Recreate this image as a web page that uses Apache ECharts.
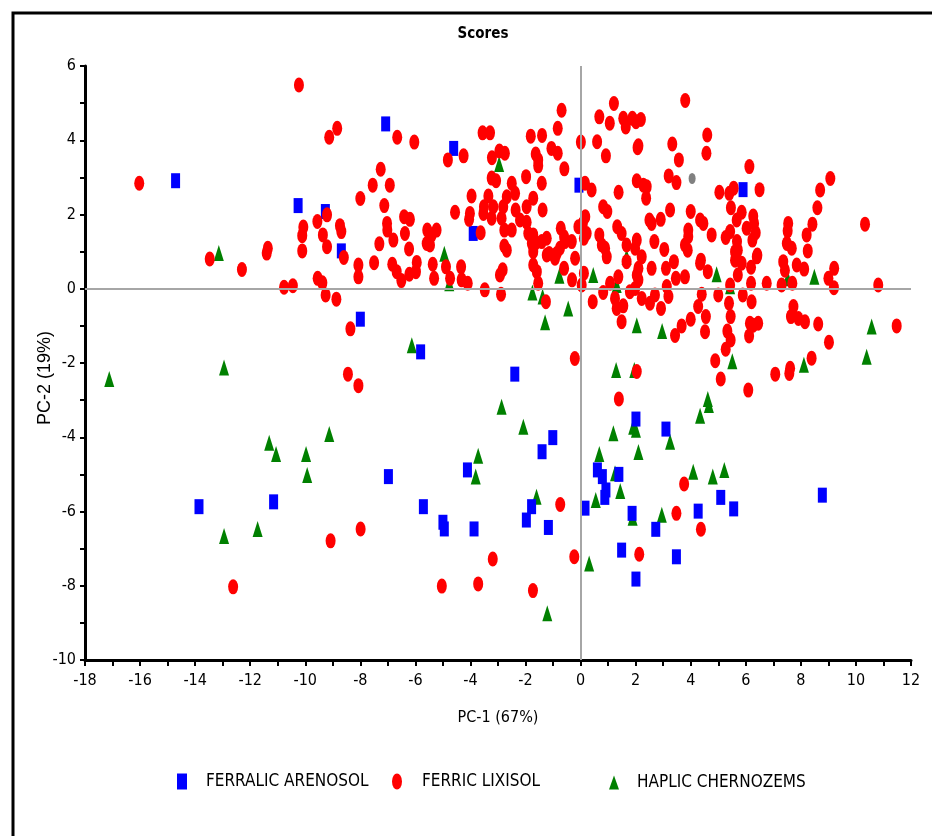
<!DOCTYPE html>
<html>
<head>
<meta charset="utf-8">
<script src="https://cdn.jsdelivr.net/npm/echarts@6/dist/echarts.min.js"></script>
<style>
html,body{margin:0;padding:0;background:#fff;}
#chart{width:932px;height:836px;}
</style>
</head>
<body>
<div id="chart"></div>
<script>
// ---- data (PC-1, PC-2) ----
const seriesNames = ['FERRALIC ARENOSOL', 'FERRIC LIXISOL', 'HAPLIC CHERNOZEMS'];
const xTickLabels = [-18,-16,-14,-12,-10,-8,-6,-4,-2,0,2,4,6,8,10,12];
const yTickLabels = [-10,-8,-6,-4,-2,0,2,4,6];

const ferralicArenosol = [
 [-14.71,2.91],[-10.26,2.24],[-9.27,2.08],[-8.69,1.02],[-8.0,-0.82],[-7.08,4.44],[-4.61,3.78],
 [-3.90,1.49],[-5.81,-1.70],[-2.39,-2.30],[-1.01,-4.01],[-1.40,-4.39],[-0.06,2.79],[5.90,2.67],
 [-13.86,-5.87],[-11.15,-5.74],[-6.98,-5.06],[-4.11,-4.88],[-5.71,-5.87],[-5.0,-6.29],[-4.95,-6.47],
 [-3.87,-6.47],[-1.78,-5.87],[-1.97,-6.23],[-1.17,-6.43],[0.16,-5.91],[0.61,-4.88],[0.79,-5.06],
 [0.92,-5.42],[0.88,-5.62],[1.39,-5.0],[1.87,-6.05],[1.49,-7.04],[2.01,-7.82],[4.27,-5.99],
 [5.09,-5.62],[5.56,-5.93],[2.73,-6.48],[3.48,-7.22],[8.78,-5.56],[2.01,-3.51],[3.10,-3.78]
];

const ferricLixisol = [
 [-10.23,5.49],[-8.84,4.32],[-9.13,4.08],[-16.03,2.84],[-8.0,2.43],[-9.56,1.81],[-9.21,1.99],
 [-10.07,1.66],[-10.11,1.43],[-8.74,1.70],[-8.69,1.54],[-9.36,1.45],[-9.21,1.13],[-10.11,1.02],
 [-11.36,1.09],[-11.40,0.96],[-13.47,0.80],[-12.30,0.52],[-10.77,0.04],[-10.45,0.08],[-9.55,0.28],
 [-9.38,0.16],[-9.26,-0.17],[-8.87,-0.28],[-8.07,0.64],[-8.07,0.32],[-8.60,0.84],[-8.36,-1.08],
 [-8.45,-2.30],[-8.07,-2.61],[-12.62,-8.03],[-9.08,-6.79],[-7.99,-6.47],
 [-7.50,0.70],[-6.84,0.66],[-6.68,0.46],[-6.51,0.22],[-6.22,0.39],[-5.95,0.71],[-5.98,0.46],
 [-5.37,0.66],[-5.32,0.28],[-4.89,0.59],[-4.74,0.28],[-4.34,0.59],[-4.32,0.24],[-4.10,0.15],
 [-3.48,-0.03],[-2.93,0.37],[-2.83,0.51],[-2.89,-0.15],[-1.72,0.64],[-1.59,0.46],[-1.54,0.15],
 [-1.23,0.91],[-0.93,0.82],[-0.60,0.55],[-0.31,0.24],[-0.20,0.82],[-1.26,-0.35],[0.12,0.42],
 [0.04,0.10],[0.44,-0.35],[0.82,-0.10],[1.07,0.15],[1.37,0.32],[1.25,-0.26],[1.31,-0.53],
 [1.55,-0.46],[1.49,-0.89],[1.79,-0.08],[1.67,0.73],[2.04,0.37],[-0.21,-1.88],[1.39,-2.97],[2.04,-2.23],
 [-3.19,-7.28],[-5.04,-8.01],[-3.72,-7.95],[-1.73,-8.13],[-0.74,-5.81],[-0.23,-7.22],[2.13,-7.15],
 [3.76,-5.26],[3.48,-6.05],[4.37,-6.48],
 [2.22,0.86],[2.10,0.55],[2.10,0.24],[2.58,0.55],[3.10,0.55],[3.39,0.73],[3.46,0.28],[3.79,0.32],
 [4.34,0.69],[4.62,0.46],[5.61,0.77],[5.85,0.69],[5.71,0.37],[6.19,0.58],[6.19,0.15],[6.40,0.86],
 [5.43,0.10],[6.76,0.15],[7.36,0.73],[7.42,0.50],[7.30,0.10],[7.69,0.15],[7.85,0.64],[8.12,0.53],
 [9.0,0.28],[9.21,0.55],[9.20,0.03],[10.81,0.10],[11.48,-1.0],[8.63,-0.95],[9.02,-1.44],[8.39,-1.87],
 [8.15,-0.89],[7.91,-0.80],[7.73,-0.48],[7.64,-0.75],[7.58,-2.28],[7.61,-2.14],[7.07,-2.30],[6.09,-2.73],
 [5.09,-2.43],[4.89,-1.94],[5.27,-1.63],[5.45,-1.38],[5.33,-1.14],[5.45,-0.75],[5.39,-0.39],[5.0,-0.17],
 [5.89,-0.17],[6.21,-0.35],[6.15,-0.93],[6.27,-0.98],[6.45,-0.93],[6.12,-1.27],[4.40,-0.15],[4.27,-0.48],
 [4.0,-0.82],[4.55,-0.75],[4.52,-1.16],[3.67,-1.0],[3.43,-1.26],[2.22,-0.26],[2.52,-0.39],[2.70,-0.17],
 [2.92,-0.53],[3.19,-0.21],[3.13,0.06],[1.98,0.01],
 [-6.66,4.08],[-6.04,3.95],[-4.82,3.47],[-4.25,3.58],[-3.56,4.20],[-3.29,4.20],[-3.22,3.53],[-2.95,3.71],
 [-2.75,3.65],[-1.81,4.11],[-1.40,4.13],[-0.69,4.81],[-0.83,4.32],[-1.63,3.63],[-1.54,3.47],[-1.54,3.31],
 [-1.06,3.78],[-0.83,3.65],[-0.59,3.23],[0.01,3.95],[0.60,3.96],[0.92,3.58],[0.68,4.63],[1.06,4.46],
 [1.21,4.99],[1.55,4.59],[1.64,4.36],[1.88,4.59],[2.01,4.50],[2.07,3.80],[2.04,2.91],[1.38,2.60],
 [0.16,2.84],[0.40,2.66],[-7.26,3.22],[-7.55,2.79],[-6.93,2.79],[-7.13,2.24],[-7.03,1.76],[-7.02,1.58],
 [-6.41,1.94],[-6.20,1.87],[-6.38,1.49],[-6.80,1.31],[-7.31,1.21],[-6.23,1.07],[-5.57,1.58],[-5.23,1.58],
 [-5.41,1.45],[-5.59,1.22],[-5.47,1.18],[-4.56,2.06],[-3.96,2.50],[-3.63,1.51],[-4.02,2.03],[-4.05,1.87],
 [-3.51,2.21],[-3.35,2.50],[-3.23,2.98],[-3.07,2.91],[-3.53,2.03],[-3.23,1.90],[-3.17,2.21],[-2.81,2.21],
 [-2.68,2.48],[-2.50,2.84],[-2.38,2.57],[-2.87,1.90],[-2.77,1.58],[-2.50,1.58],[-2.36,2.12],[-2.20,1.85],
 [-1.96,2.21],[-1.96,1.79],[-1.90,1.49],[-1.72,1.45],[-1.72,2.44],[-1.41,2.84],[-1.38,2.12],[-1.98,3.02],
 [-2.77,1.15],[-2.68,1.04],[-1.77,1.22],[-1.62,1.24],[-1.72,1.0],[-1.23,1.36],[-1.14,0.95],[-0.87,0.95],
 [-0.72,1.63],[-0.60,1.40],[-0.57,1.27],[-0.32,1.27],[-0.75,1.09],[-0.08,1.67],[0.08,1.76],[0.22,1.49],
 [0.12,1.36],[0.68,1.45],[0.89,1.09],[0.95,0.86],[0.77,1.18],[1.33,1.67],[1.49,1.49],[1.67,1.18],
 [1.98,1.09],[2.04,1.31],[0.82,2.21],[0.97,2.08],[0.17,1.94],[-1.41,1.27],
 [3.80,5.07],[2.19,4.56],[2.10,3.85],[4.60,4.14],[4.57,3.65],[3.33,3.90],[3.57,3.47],[3.20,3.04],
 [3.48,2.86],[6.13,3.29],[5.04,2.60],[5.40,2.57],[5.56,2.71],[6.50,2.67],[5.46,2.18],[5.85,2.06],
 [5.67,1.85],[6.27,1.96],[6.30,1.76],[6.36,1.51],[6.24,1.31],[6.03,1.63],[5.27,1.38],[5.43,1.54],
 [5.68,1.27],[5.71,1.04],[4.76,1.45],[4.34,1.85],[4.46,1.76],[4.0,2.08],[3.91,1.58],[3.91,1.40],
 [3.79,1.18],[3.89,1.04],[3.25,2.12],[2.91,1.87],[2.50,1.85],[2.58,1.76],[2.68,1.27],[3.04,1.06],
 [2.28,2.79],[2.40,2.75],[2.38,2.44],[7.54,1.76],[7.52,1.56],[8.42,1.74],[8.21,1.45],[8.60,2.18],
 [8.70,2.66],[9.07,2.97],[10.33,1.74],[7.49,1.22],[7.67,1.09],[8.25,1.02],[4.37,0.77],[5.61,1.0],[6.42,0.91]
];

const haplicChernozems = [
 [-13.14,0.96],[-17.12,-2.43],[-12.95,-2.12],[-11.31,-4.15],[-11.06,-4.45],[-9.97,-4.45],[-9.13,-3.91],
 [-9.93,-5.02],[-12.95,-6.66],[-11.73,-6.47],[-4.95,0.94],[-4.77,0.15],[-2.96,3.36],[-0.77,0.35],
 [-1.75,-0.10],[-1.38,-0.21],[-0.45,-0.53],[-1.29,-0.90],[0.46,0.37],[1.31,0.10],[1.67,0.86],
 [2.04,-0.98],[-6.13,-1.52],[-2.87,-3.18],[-2.08,-3.72],[-3.72,-4.50],[-3.81,-5.06],[1.29,-2.19],
 [1.95,-2.19],[1.91,-3.72],[1.19,-3.89],[0.68,-4.45],[2.10,-4.40],[-1.60,-5.60],[0.31,-7.40],
 [-1.21,-8.74],[0.55,-5.69],[1.25,-4.97],[1.44,-5.45],[1.89,-6.17],[4.09,-4.93],[4.80,-5.06],
 [5.22,-4.88],[2.95,-6.09],[4.94,0.39],[5.43,0.07],[7.52,0.28],[8.49,0.32],[10.57,-1.02],
 [10.39,-1.83],[8.11,-2.05],[5.51,-1.95],[4.62,-2.97],[4.66,-3.13],[4.34,-3.42],[3.25,-4.12],
 [2.96,-1.14],[2.01,-3.80]
];

const otherPoints = [[4.05,2.97]];

const FONT = "'DejaVu Sans Condensed','Liberation Sans Narrow','Liberation Sans',Arial,sans-serif";
const ELLIPSE = 'path://M50 0A50 50 0 1 1 50 100A50 50 0 1 1 50 0Z';

const chart = echarts.init(document.getElementById('chart'), null, {renderer: 'canvas'});

const legendText = {fontFamily: FONT, fontSize: 17, color: '#000'};

const option = {
  animation: false,
  backgroundColor: '#ffffff',
  title: {
    text: 'Scores',
    left: 478, top: 22,
    textAlign: 'center',
    textStyle: {fontFamily: FONT, fontSize: 15, fontWeight: 'bold', color: '#000'}
  },
  grid: {left: 85, right: 21, top: 66, bottom: 176, containLabel: false},
  xAxis: {
    type: 'value', min: -18, max: 12, interval: 2,
    name: 'PC-1 (67%)', nameLocation: 'middle', nameGap: 50,
    nameTextStyle: {fontFamily: FONT, fontSize: 16, color: '#000'},
    axisLine: {onZero: false, lineStyle: {color: '#000', width: 3}},
    axisTick: {show: true, length: 6, lineStyle: {color: '#000', width: 2}},
    minorTick: {show: true, splitNumber: 2, length: 6, lineStyle: {color: '#000', width: 2}},
    splitLine: {show: false},
    axisLabel: {fontFamily: FONT, fontSize: 16, color: '#000', margin: 13,
      formatter: v => xTickLabels.includes(v) ? String(v) : ''}
  },
  yAxis: {
    type: 'value', min: -10, max: 6, interval: 2,
    axisLine: {onZero: false, lineStyle: {color: '#000', width: 3}},
    axisTick: {show: true, length: 5, lineStyle: {color: '#000', width: 2}},
    minorTick: {show: true, splitNumber: 2, length: 5, lineStyle: {color: '#000', width: 2}},
    splitLine: {show: false},
    axisLabel: {fontFamily: FONT, fontSize: 16, color: '#000', margin: 9,
      formatter: v => yTickLabels.includes(v) ? String(v) : ''}
  },
  legend: [
    {data: [{name: seriesNames[0], icon: 'rect'}], left: 172, top: 768, itemWidth: 10, itemHeight: 16,
     symbolKeepAspect: false,
     selectedMode: false, textStyle: Object.assign({padding: [0, 0, 0, 14]}, legendText)},
    {data: [{name: seriesNames[1], icon: ELLIPSE}], left: 387, top: 768, itemWidth: 10, itemHeight: 16,
     symbolKeepAspect: false,
     selectedMode: false, textStyle: Object.assign({padding: [0, 0, 0, 15]}, legendText)},
    {data: [{name: seriesNames[2], icon: 'triangle'}], left: 604, top: 769, itemWidth: 10, itemHeight: 14,
     symbolKeepAspect: false,
     selectedMode: false, textStyle: Object.assign({padding: [0, 0, 0, 13]}, legendText)}
  ],
  graphic: [
    {type: 'rect', silent: true, z: 0,
     shape: {x: 13, y: 13, width: 960, height: 860},
     style: {fill: 'none', stroke: '#000', lineWidth: 3}},
    {type: 'text', silent: true, x: 45, y: 378, rotation: Math.PI / 2,
     style: {text: 'PC-2 (19%)', fontFamily: "'Liberation Sans',Arial,sans-serif", fontSize: 18,
             fill: '#000', align: 'center', verticalAlign: 'middle'}}
  ],
  series: [
    {
      name: 'zero', type: 'scatter', data: [], z: 1, silent: true,
      markLine: {
        silent: true, symbol: ['none', 'none'], animation: false,
        label: {show: false},
        lineStyle: {color: '#a6a6a6', width: 2, type: 'solid'},
        emphasis: {disabled: true},
        data: [{xAxis: 0}, {yAxis: 0}]
      }
    },
    {
      name: seriesNames[2], type: 'scatter', data: haplicChernozems, z: 2,
      symbol: 'triangle', symbolSize: [10, 16],
      itemStyle: {color: '#008000', opacity: 1}
    },
    {
      name: seriesNames[0], type: 'scatter', data: ferralicArenosol, z: 3,
      symbol: 'rect', symbolSize: [9, 15],
      itemStyle: {color: '#0000ff', opacity: 1}
    },
    {
      name: seriesNames[1], type: 'scatter', data: ferricLixisol, z: 4,
      symbol: ELLIPSE, symbolSize: [10, 15], symbolKeepAspect: false,
      itemStyle: {color: '#ff0000', opacity: 1}
    },
    {
      name: 'other', type: 'scatter', data: otherPoints, z: 4,
      symbol: ELLIPSE, symbolSize: [7, 11], symbolKeepAspect: false,
      itemStyle: {color: '#808080', opacity: 1}
    }
  ]
};
chart.setOption(option);
</script>
</body>
</html>
